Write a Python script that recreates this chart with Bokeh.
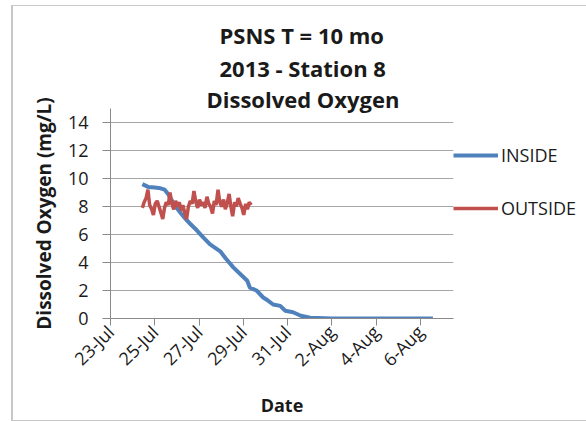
from bokeh.plotting import figure
from bokeh.models import FixedTicker, Legend, LegendItem, Range1d, Title
from bokeh.embed import file_html
from bokeh.resources import INLINE

# ---- data (x = day of July; Aug 1 = 32) ----
inside_day = [24.44, 24.7, 25.0, 25.26, 25.45, 25.6, 25.75, 25.95, 26.16, 26.4, 26.61,
              26.9, 27.19, 27.5, 27.96, 28.2, 28.55, 28.85, 29.18, 29.3, 29.45, 29.6,
              29.9, 30.1, 30.35, 30.67, 30.9, 31.25, 31.6, 32.02, 33.0, 35.0, 37.57]
inside_do = [9.6, 9.4, 9.35, 9.3, 9.2, 8.9, 8.5, 8.0, 7.55, 7.1, 6.75,
             6.3, 5.8, 5.3, 4.8, 4.3, 3.65, 3.2, 2.7, 2.2, 2.1, 2.0,
             1.5, 1.3, 1.0, 0.9, 0.55, 0.45, 0.2, 0.05, 0.0, 0.0, 0.0]

outside_day = [24.44, 24.52, 24.61, 24.69, 24.77, 24.86, 24.94, 25.02, 25.11, 25.19,
               25.27, 25.36, 25.44, 25.52, 25.61, 25.69, 25.77, 25.86, 25.94, 26.02,
               26.11, 26.19, 26.27, 26.36, 26.44, 26.52, 26.61, 26.69, 26.77, 26.86,
               26.94, 27.02, 27.11, 27.19, 27.27, 27.36, 27.44, 27.52, 27.61, 27.69,
               27.77, 27.86, 27.94, 28.02, 28.11, 28.19, 28.27, 28.36, 28.44, 28.52,
               28.61, 28.69, 28.77, 28.86, 28.94, 29.02, 29.11, 29.19, 29.27, 29.36]
outside_do = [7.9, 8.3, 8.6, 9.2, 8.1, 7.8, 7.4, 8.2, 8.4, 8.0,
              7.6, 7.1, 7.9, 8.3, 8.1, 9.0, 8.2, 7.8, 8.4, 8.0,
              8.3, 7.7, 8.1, 7.5, 7.1, 8.0, 8.4, 8.2, 9.1, 8.3,
              7.9, 8.5, 8.1, 8.3, 7.9, 8.7, 8.2, 8.0, 7.5, 8.4,
              8.1, 9.2, 8.3, 8.0, 8.5, 7.8, 8.2, 8.9, 8.0, 7.3,
              8.3, 8.0, 8.6, 8.2, 7.9, 7.4, 8.2, 7.8, 8.3, 8.1]

x_tick_days = [23, 25, 27, 29, 31, 33, 35, 37]
x_tick_labels = ["23-Jul", "25-Jul", "27-Jul", "29-Jul", "31-Jul", "2-Aug", "4-Aug", "6-Aug"]
y_ticks = [0, 2, 4, 6, 8, 10, 12, 14]

title_lines = ["PSNS T = 10 mo", "2013 - Station 8", "Dissolved Oxygen"]
title_offsets = [109, 109, 96]
title_standoffs = [-6, 9, -11]
series_names = ["INSIDE", "OUTSIDE"]

FONT = "Open Sans"
TXT = "#1a1a1a"

p = figure(frame_width=343, frame_height=210, output_backend="svg", toolbar_location=None,
           x_range=Range1d(23, 38.5), y_range=Range1d(0, 15),
           min_border_left=97, min_border_right=133, min_border_top=102,
           min_border_bottom=102, background_fill_color="white",
           border_fill_color="white", outline_line_color=None)
p.styles = {"margin-left": "11px", "margin-top": "5px",
            "border-left": "2px solid #c8c8c8", "border-top": "1px solid #c8c8c8",
            "border-bottom": "1px solid #c8c8c8"}

# later-added titles sit further from the frame
for line, off, so in reversed(list(zip(title_lines, title_offsets, title_standoffs))):
    p.add_layout(Title(text=line, align="left", offset=off, text_font=FONT,
                       text_font_size="22px", text_font_style="bold",
                       text_color=TXT, standoff=so), "above")

r_in = p.line(inside_day, inside_do, line_color="#4f81bd", line_width=4)
r_out = p.line(outside_day, outside_do, line_color="#c0504d", line_width=3.5)

# axes
p.xaxis.ticker = FixedTicker(ticks=x_tick_days)
p.xaxis.major_label_overrides = {d: l for d, l in zip(x_tick_days, x_tick_labels)}
p.xaxis.major_label_orientation = 0.785398
p.yaxis.ticker = FixedTicker(ticks=y_ticks)
for ax in (p.xaxis[0], p.yaxis[0]):
    ax.axis_line_color = "#8a8a8a"
    ax.major_tick_line_color = "#8a8a8a"
    ax.minor_tick_line_color = None
    ax.major_tick_in = 0
    ax.major_label_text_font = FONT
    ax.major_label_text_font_size = "18px"
    ax.major_label_text_color = TXT
    ax.axis_label_text_font = FONT
    ax.axis_label_text_font_size = "18px"
    ax.axis_label_text_font_style = "bold"
    ax.axis_label_text_color = TXT
p.yaxis.axis_label_text_font_size = "19px"
p.xaxis.major_tick_out = 7
p.yaxis.major_tick_out = 8
p.yaxis.major_label_standoff = 14
p.xaxis.major_label_standoff = 3
p.xaxis.axis_label = "Date"
p.yaxis.axis_label = "Dissolved Oxygen (mg/L)"
p.yaxis.axis_label_standoff = 8
p.xaxis.axis_label_standoff = 10

p.xgrid.grid_line_color = None
p.ygrid.ticker = FixedTicker(ticks=y_ticks)
p.ygrid.grid_line_color = "#a6a6a6"

legend = Legend(items=[LegendItem(label=series_names[0], renderers=[r_in]),
                       LegendItem(label=series_names[1], renderers=[r_out])],
                location="top_left", orientation="vertical",
                title=" ", title_text_font_size="8px", title_standoff=26,
                glyph_width=45, glyph_height=20, label_standoff=3, spacing=29,
                padding=0, margin=0, border_line_color=None,
                background_fill_alpha=0,
                label_text_font=FONT, label_text_font_size="18px",
                label_text_color=TXT)
p.add_layout(legend, "right")

open("out.html", "w").write(file_html(p, INLINE))
